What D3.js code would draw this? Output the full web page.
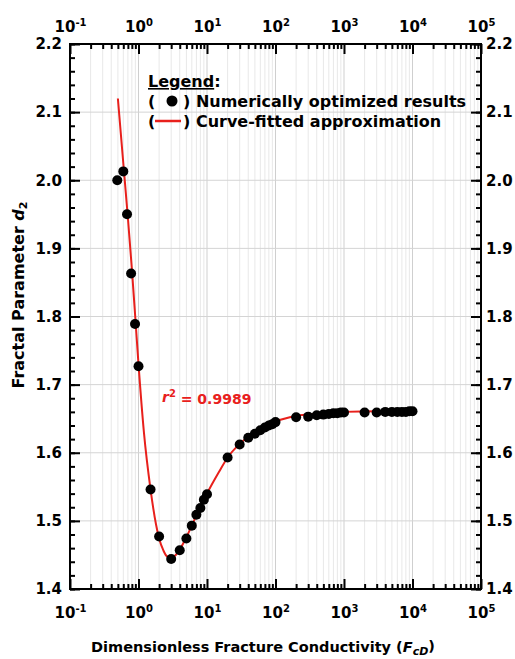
<!DOCTYPE html>
<html>
<head>
<meta charset="utf-8">
<script src="https://cdn.jsdelivr.net/npm/d3@7"></script>
<style>
  body { margin: 0; background: #fff; }
  svg text { font-family: "DejaVu Sans", sans-serif; font-weight: bold; fill: #000; }
</style>
</head>
<body>
<div id="chart"></div>
<script>
// numerically optimized results (FcD, d2)
var fcdPoints = [0.49, 0.6, 0.68, 0.78, 0.89, 1.0, 1.5, 2, 3, 4, 5, 6, 7, 8, 9, 10, 20, 30, 40,
  50, 60, 70, 80, 90, 100, 200, 300, 400, 500, 600, 700, 800, 900, 1000,
  2000, 3000, 4000, 5000, 6000, 7000, 8000, 9000, 10000];
var d2Points = [2.000, 2.013, 1.950, 1.863, 1.789, 1.727, 1.546, 1.477, 1.444, 1.457, 1.474, 1.493, 1.509, 1.519, 1.531, 1.539, 1.593, 1.612, 1.622,
  1.628, 1.633, 1.637, 1.640, 1.642, 1.645, 1.652, 1.653, 1.655, 1.656, 1.657, 1.658, 1.658, 1.659, 1.659,
  1.659, 1.659, 1.660, 1.660, 1.660, 1.660, 1.660, 1.661, 1.661];

// curve-fitted approximation
var fitFcd = [0.5, 0.6, 0.7, 0.8, 0.9, 1.0, 1.2, 1.5, 1.8, 2.0, 2.3, 2.6, 3.0, 3.5, 4, 5, 6, 7, 8, 10,
  15, 20, 30, 50, 100, 200, 500, 1000, 3000, 10000];
var fitD2 = [2.12, 2.025, 1.945, 1.87, 1.797, 1.73, 1.63, 1.546, 1.495, 1.474, 1.457, 1.448, 1.446, 1.450, 1.458, 1.476, 1.493, 1.508, 1.520, 1.540,
  1.572, 1.593, 1.613, 1.630, 1.646, 1.654, 1.658, 1.660, 1.661, 1.661];

var xTickExps = [-1, 0, 1, 2, 3, 4, 5];
var yTicks = [1.4, 1.5, 1.6, 1.7, 1.8, 1.9, 2.0, 2.1, 2.2];

var margin = { top: 44, right: 34, bottom: 70, left: 70 },
  width = 515 - margin.left - margin.right,
  height = 659 - margin.top - margin.bottom;

var svg = d3.select("#chart").append("svg")
  .attr("width", 515)
  .attr("height", 659);

var g = svg.append("g")
  .attr("transform", "translate(" + margin.left + "," + margin.top + ")");

var x = d3.scaleLog().domain([0.1, 1e5]).range([0, width]);
var y = d3.scaleLinear().domain([1.4, 2.2]).range([height, 0]);

var xMajor = xTickExps.map(function(e) { return Math.pow(10, e); });
var xMinor = x.ticks().filter(function(v) {
  return xMajor.every(function(m) { return Math.abs(v / m - 1) > 1e-6; });
});
var yMinor = y.ticks(40);

// grid
g.append("g").selectAll("line.vminor").data(xMinor).enter().append("line")
  .attr("x1", function(d) { return x(d); }).attr("x2", function(d) { return x(d); })
  .attr("y1", 0).attr("y2", height)
  .style("stroke", "#e8e8e8").style("stroke-width", 1);
g.append("g").selectAll("line.vmajor").data(xMajor).enter().append("line")
  .attr("x1", function(d) { return x(d); }).attr("x2", function(d) { return x(d); })
  .attr("y1", 0).attr("y2", height)
  .style("stroke", "#cfcfcf").style("stroke-width", 1);
g.append("g").selectAll("line.h").data(yTicks).enter().append("line")
  .attr("x1", 0).attr("x2", width)
  .attr("y1", function(d) { return y(d); }).attr("y2", function(d) { return y(d); })
  .style("stroke", "#d4d4d4").style("stroke-width", 1);

// axes (ticks inward)
function styleAxis(sel) {
  sel.select(".domain").remove();
  sel.selectAll(".tick line").style("stroke", "#000").style("stroke-width", 2);
}

function powLabels(sel) {
  sel.selectAll(".tick text").each(function(d) {
    var t = d3.select(this).text("").style("font-size", "15px");
    t.append("tspan").text("10");
    t.append("tspan").text(Math.round(Math.log10(d)))
      .attr("dy", "-0.6em").style("font-size", "10px");
  });
}

g.append("g").attr("transform", "translate(0," + height + ")")
  .call(d3.axisBottom(x).tickValues(xMinor).tickSize(-5).tickFormat(""))
  .call(styleAxis);
g.append("g").attr("transform", "translate(0," + height + ")")
  .call(d3.axisBottom(x).tickValues(xMajor).tickSize(-10).tickPadding(18))
  .call(styleAxis).call(powLabels);

g.append("g")
  .call(d3.axisTop(x).tickValues(xMinor).tickSize(-5).tickFormat(""))
  .call(styleAxis);
g.append("g")
  .call(d3.axisTop(x).tickValues(xMajor).tickSize(-10).tickPadding(12))
  .call(styleAxis).call(powLabels);

g.append("g")
  .call(d3.axisLeft(y).tickValues(yMinor).tickSize(-5).tickFormat(""))
  .call(styleAxis);
g.append("g")
  .call(d3.axisLeft(y).tickValues(yTicks).tickSize(-10).tickPadding(8).tickFormat(d3.format(".1f")))
  .call(styleAxis)
  .selectAll(".tick text").style("font-size", "15px");

g.append("g").attr("transform", "translate(" + width + ",0)")
  .call(d3.axisRight(y).tickValues(yMinor).tickSize(-5).tickFormat(""))
  .call(styleAxis);
g.append("g").attr("transform", "translate(" + width + ",0)")
  .call(d3.axisRight(y).tickValues(yTicks).tickSize(-10).tickPadding(5).tickFormat(d3.format(".1f")))
  .call(styleAxis)
  .selectAll(".tick text").style("font-size", "15px");

// frame
g.append("rect")
  .attr("width", width).attr("height", height)
  .style("fill", "none").style("stroke", "#000").style("stroke-width", 2);

// fitted curve
var fit = fitFcd.map(function(v, i) { return [v, fitD2[i]]; });
var line = d3.line()
  .x(function(d) { return x(d[0]); })
  .y(function(d) { return y(d[1]); })
  .curve(d3.curveMonotoneX);
g.append("path").datum(fit)
  .attr("d", line)
  .style("fill", "none").style("stroke", "#e8201c").style("stroke-width", 2);

// points
var pts = fcdPoints.map(function(v, i) { return [v, d2Points[i]]; });
g.selectAll("circle.pt").data(pts).enter().append("circle")
  .attr("class", "pt")
  .attr("cx", function(d) { return x(d[0]); })
  .attr("cy", function(d) { return y(d[1]); })
  .attr("r", 5)
  .style("fill", "#000");

// r^2 label
var r2 = svg.append("text").attr("x", 162).attr("y", 402)
  .style("font-size", "14px").style("fill", "#e8201c");
r2.append("tspan").text("r").style("font-style", "italic").style("fill", "#e8201c");
r2.append("tspan").text("2").attr("dy", "-0.55em").style("font-size", "10px").style("fill", "#e8201c");
r2.append("tspan").text(" = 0.9989").attr("dy", "0.55em").style("fill", "#e8201c");

// legend
var lg = svg.append("g").attr("transform", "translate(148,0)");
var lt = lg.append("text").attr("x", 0).attr("y", 87).style("font-size", "16px");
lt.append("tspan").text("Legend").style("text-decoration", "underline");
lt.append("tspan").text(":");
lg.append("text").attr("x", 0).attr("y", 107).style("font-size", "16px").text("(");
lg.append("circle").attr("cx", 24).attr("cy", 101).attr("r", 5.5).style("fill", "#000");
lg.append("text").attr("x", 35).attr("y", 107).style("font-size", "16px").text(") Numerically optimized results");
lg.append("text").attr("x", 0).attr("y", 127).style("font-size", "16px").text("(");
lg.append("line").attr("x1", 7).attr("x2", 33).attr("y1", 121).attr("y2", 121)
  .style("stroke", "#e8201c").style("stroke-width", 2.5);
lg.append("text").attr("x", 35).attr("y", 127).style("font-size", "16px").text(") Curve-fitted approximation");

// axis titles
var xt = svg.append("text").attr("x", 263).attr("y", 652)
  .attr("text-anchor", "middle").style("font-size", "14.5px");
xt.append("tspan").text("Dimensionless Fracture Conductivity (");
xt.append("tspan").text("F").style("font-style", "italic");
xt.append("tspan").text("cD").attr("dy", "0.3em").style("font-size", "11px").style("font-style", "italic");
xt.append("tspan").text(")").attr("dy", "-0.3em");

var yt = svg.append("text")
  .attr("transform", "translate(24,295) rotate(-90)")
  .attr("text-anchor", "middle").style("font-size", "16px");
yt.append("tspan").text("Fractal Parameter ");
yt.append("tspan").text("d").style("font-style", "italic");
yt.append("tspan").text("2").attr("dy", "0.3em").style("font-size", "11px");
</script>
</body>
</html>
